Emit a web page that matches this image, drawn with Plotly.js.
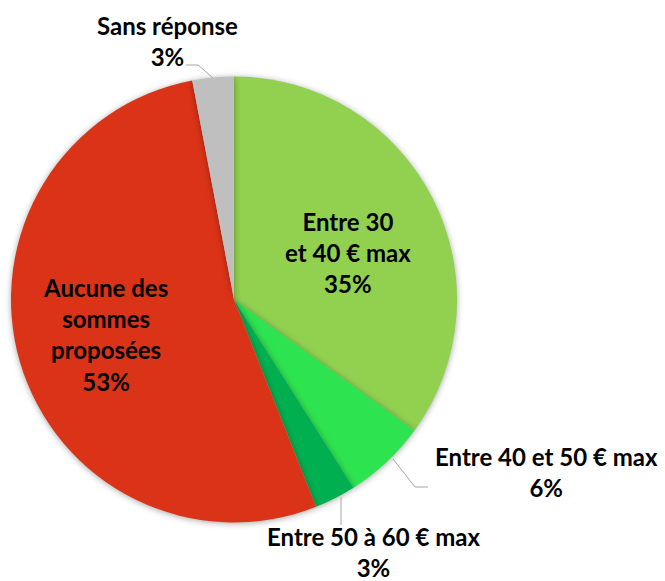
<!DOCTYPE html>
<html>
<head>
<meta charset="utf-8">
<script src="https://cdn.plot.ly/plotly-3.0.1.min.js"></script>
<style>
html,body{margin:0;padding:0;background:#fff;}
#chart{width:665px;height:581px;}
.pielayer .slice path.surface{filter: drop-shadow(0px 1px 3px rgba(0,0,0,0.35));}
</style>
</head>
<body>
<div id="chart"></div>
<script>
// Data
var categories = ["Entre 30<br>et 40 € max", "Entre 40 et 50 € max", "Entre 50 à 60 € max", "Aucune des<br>sommes<br>proposées", "Sans réponse"];
var percentages = [35, 6, 3, 53, 3];
var sliceColors = ["#92D050", "#2EE350", "#00B050", "#DB3318", "#BFBFBF"];

// Label layout (pixel positions of label centres), independent of data
var labelPos = [
  {x: 348, y: 252},
  {x: 546, y: 472},
  {x: 373, y: 552},
  {x: 105, y: 334},
  {x: 167, y: 41}
];

var W = 665, H = 581;
function px(x){ return x / W; }
function py(y){ return 1 - y / H; }

var annotations = categories.map(function(c, i){
  return {
    xref: 'paper', yref: 'paper',
    x: px(labelPos[i].x), y: py(labelPos[i].y),
    xanchor: 'center', yanchor: 'middle',
    text: c + '<br>' + percentages[i] + '%',
    showarrow: false,
    font: {family: 'Lato, "Open Sans", sans-serif', size: 24, color: '#000', weight: 'bold'},
    align: 'center'
  };
});

// leader lines for outside labels (pixel coordinates)
var leaders = [
  [[186,65],[198,65],[213,78]],
  [[393,459],[415,487],[428,487]],
  [[341,497],[341,525]]
];
var shapes = leaders.map(function(pts){
  var d = pts.map(function(p, k){ return (k===0?'M':'L') + px(p[0]) + ',' + py(p[1]); }).join(' ');
  return {type:'path', xref:'paper', yref:'paper', path: d, line:{color:'#A6A6A6', width:1}};
});

var trace = {
  type: 'pie',
  values: percentages,
  labels: categories,
  sort: false,
  direction: 'clockwise',
  rotation: 0,
  textinfo: 'none',
  hoverinfo: 'label+percent',
  marker: {colors: sliceColors, line: {width: 0}},
  domain: {x: [11/665, 457/665], y: [58.5/581, 504.5/581]},
  showlegend: false
};

var layout = {
  width: W, height: H,
  margin: {l:0, r:0, t:0, b:0},
  paper_bgcolor: '#fff',
  plot_bgcolor: '#fff',
  showlegend: false,
  annotations: annotations,
  shapes: shapes
};

Plotly.newPlot('chart', [trace], layout, {displayModeBar: false, staticPlot: true});
</script>
</body>
</html>
